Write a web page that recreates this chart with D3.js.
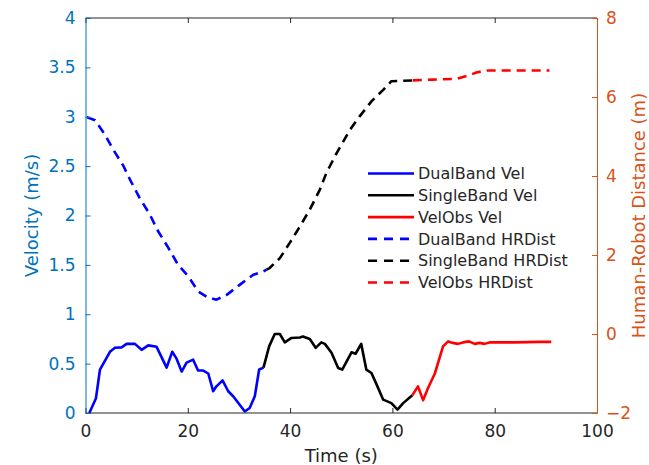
<!DOCTYPE html>
<html>
<head>
<meta charset="utf-8">
<script src="https://cdn.jsdelivr.net/npm/d3@7"></script>
<style>
  body { margin: 0; background: #fff; }
  svg { font-family: "DejaVu Sans", sans-serif; }
</style>
</head>
<body>
<div id="chart"></div>
<script>
// velocity (left axis) segments
const dualVelT = [0.75, 2.05, 2.83, 4.78, 5.76, 7.06, 8.04, 9.67, 10.97, 12.27, 13.9, 15.86, 16.96, 17.8, 18.8, 19.76, 21.05, 22.0, 23.0, 24.0, 24.96, 25.6, 26.8, 27.9, 28.87, 31.15, 32.1, 33.1, 33.95, 34.8];
const dualVel  = [0, 0.15, 0.44, 0.62, 0.66, 0.665, 0.70, 0.70, 0.64, 0.685, 0.67, 0.46, 0.62, 0.55, 0.42, 0.51, 0.54, 0.43, 0.43, 0.40, 0.22, 0.27, 0.33, 0.22, 0.17, 0.015, 0.05, 0.17, 0.44, 0.46];

const singleVelT = [34.8, 35.9, 37.0, 38.0, 38.96, 40.27, 41.9, 42.5, 43.85, 45.0, 46.1, 46.8, 48.1, 49.4, 50.2, 52.0, 52.8, 53.9, 54.9, 55.9, 56.9, 58.2, 59.8, 61.0, 62.1, 63.9];
const singleVel  = [0.46, 0.675, 0.80, 0.80, 0.715, 0.76, 0.765, 0.775, 0.75, 0.66, 0.715, 0.70, 0.61, 0.455, 0.44, 0.615, 0.60, 0.70, 0.44, 0.405, 0.29, 0.135, 0.10, 0.035, 0.10, 0.18];

const obsVelT = [63.9, 65.0, 66.0, 66.95, 68.3, 69.9, 70.9, 71.8, 72.8, 73.8, 74.96, 76.1, 77.05, 78.0, 79.0, 84.0, 88.7, 91.05];
const obsVel  = [0.18, 0.27, 0.13, 0.25, 0.40, 0.675, 0.725, 0.71, 0.70, 0.715, 0.725, 0.70, 0.71, 0.70, 0.715, 0.715, 0.72, 0.72];

// human-robot distance (right axis) segments
const dualDistT = [0.23, 1.86, 3.8, 5.4, 7.4, 8.7, 10.6, 12.6, 14.2, 16.2, 18.1, 20.1, 22.0, 23.7, 25.6, 27.6, 30.2, 32.8, 34.7, 35.4];
const dualDist  = [5.49, 5.41, 5.05, 4.67, 4.26, 3.91, 3.44, 3.02, 2.60, 2.18, 1.75, 1.46, 1.08, 0.94, 0.87, 0.99, 1.25, 1.50, 1.58, 1.63];

const singleDistT = [35.4, 36.0, 38.0, 39.9, 41.9, 43.85, 45.8, 47.1, 49.1, 51.7, 53.6, 55.9, 58.2, 59.8, 62.1, 64.0];
const singleDist  = [1.63, 1.67, 1.92, 2.30, 2.72, 3.15, 3.65, 4.08, 4.58, 5.17, 5.51, 5.89, 6.18, 6.40, 6.41, 6.42];

const obsDistT = [64.0, 67.9, 72.5, 74.8, 76.4, 78.4, 90.7];
const obsDist  = [6.42, 6.44, 6.46, 6.54, 6.62, 6.67, 6.67];

const xTicks = [0, 20, 40, 60, 80, 100];
const leftTicks = [0, 0.5, 1, 1.5, 2, 2.5, 3, 3.5, 4];
const rightTicks = [-2, 0, 2, 4, 6, 8];
const legendNames = ["DualBand Vel", "SingleBand Vel", "VelObs Vel", "DualBand HRDist", "SingleBand HRDist", "VelObs HRDist"];

const width = 649, height = 465;
const margin = { top: 18, right: 52, bottom: 52, left: 85.5 };
const blueAx = "#0072BD", orangeAx = "#D95319", gray = "#262626";

const svg = d3.select("#chart").append("svg")
  .attr("width", width)
  .attr("height", height);

const x = d3.scaleLinear().domain([0, 100]).range([margin.left, width - margin.right]);
const yL = d3.scaleLinear().domain([0, 4]).range([height - margin.bottom, margin.top]);
const yR = d3.scaleLinear().domain([-2, 8]).range([height - margin.bottom, margin.top]);

const x0 = x.range()[0], x1 = x.range()[1];
const y0 = yL.range()[0], y1 = yL.range()[1];

// series
const series = [
  { t: dualVelT, v: dualVel, y: yL, color: "#0000ff", dash: null },
  { t: singleVelT, v: singleVel, y: yL, color: "#000000", dash: null },
  { t: obsVelT, v: obsVel, y: yL, color: "#ff0000", dash: null },
  { t: dualDistT, v: dualDist, y: yR, color: "#0000ff", dash: "9,6" },
  { t: singleDistT, v: singleDist, y: yR, color: "#000000", dash: "9,6" },
  { t: obsDistT, v: obsDist, y: yR, color: "#ff0000", dash: "9,6" }
];

series.forEach(s => {
  const line = d3.line()
    .x((d, i) => x(s.t[i]))
    .y(d => s.y(d));
  svg.append("path")
    .attr("d", line(s.v))
    .attr("fill", "none")
    .attr("stroke", s.color)
    .attr("stroke-width", 2.6)
    .attr("stroke-linejoin", "round")
    .attr("stroke-dasharray", s.dash);
});

// box lines
svg.append("line").attr("x1", x0).attr("x2", x1).attr("y1", y0).attr("y2", y0).attr("stroke", gray);
svg.append("line").attr("x1", x0).attr("x2", x1).attr("y1", y1).attr("y2", y1).attr("stroke", gray);

// bottom axis
const xAxis = svg.append("g")
  .attr("transform", `translate(0,${y0})`)
  .call(d3.axisBottom(x).tickValues(xTicks).tickSize(-5).tickPadding(12));
xAxis.select(".domain").remove();
xAxis.selectAll("line").attr("stroke", gray);
xAxis.selectAll("text").attr("fill", gray).style("font-size", "17px")
  .attr("font-family", "DejaVu Sans");

// top ticks
svg.append("g")
  .attr("transform", `translate(0,${y1})`)
  .call(d3.axisTop(x).tickValues(xTicks).tickSize(-5).tickFormat(""))
  .call(g => g.select(".domain").remove())
  .selectAll("line").attr("stroke", gray);

// left axis
const left = svg.append("g")
  .attr("transform", `translate(${x0},0)`)
  .call(d3.axisLeft(yL).tickValues(leftTicks).tickSize(-5).tickPadding(10).tickFormat(d3.format("")));
left.select(".domain").attr("stroke", blueAx);
left.selectAll("line").attr("stroke", blueAx);
left.selectAll("text").attr("fill", blueAx).style("font-size", "17px")
  .attr("font-family", "DejaVu Sans");

// right axis
const right = svg.append("g")
  .attr("transform", `translate(${x1},0)`)
  .call(d3.axisRight(yR).tickValues(rightTicks).tickSize(-5).tickPadding(9));
right.select(".domain").attr("stroke", orangeAx);
right.selectAll("line").attr("stroke", orangeAx);
right.selectAll("text").attr("fill", orangeAx).style("font-size", "17px")
  .attr("font-family", "DejaVu Sans");

// axis labels
svg.append("text")
  .attr("x", (x0 + x1) / 2)
  .attr("y", 462)
  .attr("text-anchor", "middle")
  .attr("fill", gray)
  .style("font-size", "18px")
  .text("Time (s)");

svg.append("text")
  .attr("transform", `translate(38,${(y0 + y1) / 2}) rotate(-90)`)
  .attr("text-anchor", "middle")
  .attr("fill", blueAx)
  .style("font-size", "18px")
  .text("Velocity (m/s)");

svg.append("text")
  .attr("transform", `translate(645,${(y0 + y1) / 2}) rotate(-90)`)
  .attr("text-anchor", "middle")
  .attr("fill", orangeAx)
  .style("font-size", "18px")
  .text("Human-Robot Distance (m)");

// legend
const legend = svg.append("g").attr("transform", "translate(368,173.5)");
legendNames.forEach((name, i) => {
  const s = series[i];
  const row = legend.append("g").attr("transform", `translate(0,${i * 21.8})`);
  row.append("line")
    .attr("x1", 0).attr("x2", 46)
    .attr("stroke", s.color)
    .attr("stroke-width", 2.6)
    .attr("stroke-dasharray", s.dash ? "9,7" : null);
  row.append("text")
    .attr("x", 50)
    .attr("dy", "0.35em")
    .attr("fill", gray)
    .style("font-size", "16px")
    .text(name);
});
</script>
</body>
</html>
